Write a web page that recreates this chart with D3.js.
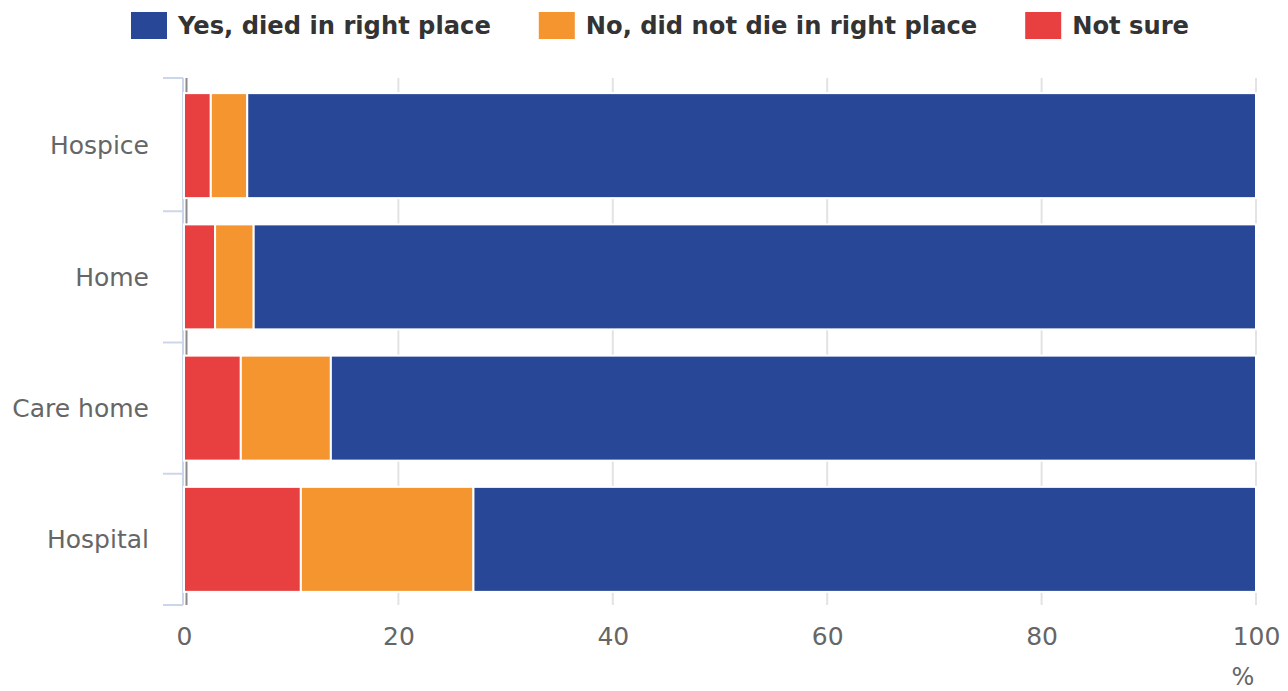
<!DOCTYPE html>
<html>
<head>
<meta charset="utf-8">
<script src="https://cdn.jsdelivr.net/npm/d3@7/dist/d3.min.js"></script>
<style>
  html, body { margin: 0; padding: 0; background: #fff; }
  svg { display: block; font-family: "DejaVu Sans", sans-serif; }
</style>
</head>
<body>
<svg id="chart" width="1288" height="691"></svg>
<script>
// Place of death categories (top to bottom)
const categories = ["Hospice", "Home", "Care home", "Hospital"];

// Share of respondents per answer, in percent
const notSure = [2.5, 2.9, 5.3, 10.9];
const noWrongPlace = [3.4, 3.6, 8.4, 16.1];
const yesRightPlace = [94.1, 93.5, 86.3, 73.0];

// Series in stacking order, left to right
const seriesNames = ["Not sure", "No, did not die in right place", "Yes, died in right place"];
const seriesColors = ["#e84041", "#f49530", "#284796"];
const seriesValues = [notSure, noWrongPlace, yesRightPlace];

// Legend order
const legendOrder = [2, 1, 0];

const xTicks = [0, 20, 40, 60, 80, 100];
const xUnit = "%";

const svg = d3.select("#chart");

const plotTop = 78, plotBottom = 605;
const x = d3.scaleLinear().domain([0, 100]).range([184, 1256]);
const y = d3.scaleBand().domain(categories).range([80, 605])
  .paddingInner(0.2).paddingOuter(0.1);

// Stack the rows
const rows = categories.map((c, i) => {
  const r = { category: c };
  seriesNames.forEach((s, k) => { r[s] = seriesValues[k][i]; });
  return r;
});
const stacked = d3.stack().keys(seriesNames)(rows);

// Vertical gridlines
svg.append("g").selectAll("line")
  .data(xTicks.filter(t => t !== 0))
  .join("line")
  .attr("x1", d => x(d)).attr("x2", d => x(d))
  .attr("y1", plotTop).attr("y2", plotBottom)
  .attr("stroke", "#e3e3e3").attr("stroke-width", 2);

// Zero gridline, darker
svg.append("line")
  .attr("x1", x(0) + 2.5).attr("x2", x(0) + 2.5)
  .attr("y1", plotTop).attr("y2", plotBottom)
  .attr("stroke", "#8a8a8a").attr("stroke-width", 2);

// Category axis line and ticks at band boundaries
const axisX = x(0) - 1;
svg.append("line")
  .attr("x1", axisX).attr("x2", axisX)
  .attr("y1", plotTop).attr("y2", plotBottom)
  .attr("stroke", "#ccd6eb").attr("stroke-width", 2);

const halfGap = y.step() * y.paddingInner() / 2;
const boundaries = categories.map(c => y(c) - halfGap);
boundaries[0] = plotTop;
boundaries.push(plotBottom);
svg.append("g").selectAll("line")
  .data(boundaries)
  .join("line")
  .attr("x1", axisX - 20).attr("x2", axisX)
  .attr("y1", d => d).attr("y2", d => d)
  .attr("stroke", "#ccd6eb").attr("stroke-width", 2);

// Bars
svg.append("g").selectAll("g")
  .data(stacked)
  .join("g")
  .attr("fill", (d, i) => seriesColors[i])
  .selectAll("rect")
  .data(d => d)
  .join("rect")
  .attr("x", d => x(d[0]))
  .attr("width", d => x(d[1]) - x(d[0]))
  .attr("y", d => y(d.data.category))
  .attr("height", y.bandwidth())
  .attr("stroke", "#ffffff")
  .attr("stroke-width", 2);

// Category labels
svg.append("g").selectAll("text")
  .data(categories)
  .join("text")
  .attr("x", 149)
  .attr("y", d => y(d) + y.bandwidth() / 2)
  .attr("dy", "0.35em")
  .attr("text-anchor", "end")
  .attr("font-size", 25)
  .attr("fill", "#666666")
  .text(d => d);

// Value axis labels
const xAxis = d3.axisBottom(x).tickValues(xTicks).tickSize(0).tickPadding(0);
const gx = svg.append("g").attr("transform", `translate(0, ${plotBottom})`).call(xAxis);
gx.select(".domain").remove();
gx.selectAll("text")
  .attr("y", 40).attr("dy", 0)
  .attr("font-size", 25)
  .attr("font-family", "DejaVu Sans, sans-serif")
  .attr("fill", "#666666");

svg.append("text")
  .attr("x", 1243).attr("y", 685)
  .attr("text-anchor", "middle")
  .attr("font-size", 24)
  .attr("fill", "#666666")
  .text(xUnit);

// Legend
const legend = svg.append("g");
let lx = 131;
legendOrder.forEach(k => {
  legend.append("rect")
    .attr("x", lx).attr("y", 12)
    .attr("width", 36).attr("height", 27)
    .attr("fill", seriesColors[k]);
  const t = legend.append("text")
    .attr("x", lx + 47).attr("y", 34)
    .attr("font-size", 24.2)
    .attr("font-weight", "bold")
    .attr("fill", "#333333")
    .text(seriesNames[k]);
  lx = lx + 47 + t.node().getComputedTextLength() + 48;
});
</script>
</body>
</html>
